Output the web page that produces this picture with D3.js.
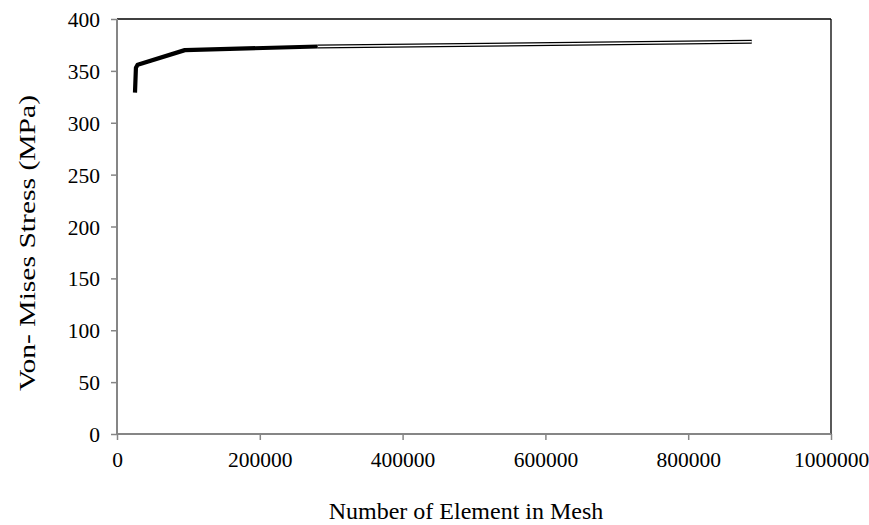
<!DOCTYPE html>
<html>
<head>
<meta charset="utf-8">
<script src="https://cdn.jsdelivr.net/npm/d3@7/dist/d3.min.js"></script>
<style>
  html, body { margin: 0; padding: 0; background: #ffffff; }
  svg { display: block; }
  svg text { font-family: "Liberation Serif", "Times New Roman", serif !important; fill: #000; }
</style>
</head>
<body>
<svg id="chart" width="869" height="525"></svg>
<script>
// Data
const elements = [25200, 26500, 29000, 95000, 281000, 889000];
const stress   = [329,   353,   356,   370,   373.5,  378];
const thickCount = 5; // first 5 points drawn with thick line, rest as hollow thin line
const xTicks = [0, 200000, 400000, 600000, 800000, 1000000];
const yTicks = [0, 50, 100, 150, 200, 250, 300, 350, 400];
const xTitle = "Number of Element in Mesh";
const yTitle = "Von- Mises Stress (MPa)";

const svg = d3.select("#chart");
const L = 117, R = 831, T = 19, B = 434;

const x = d3.scaleLinear().domain([0, 1000000]).range([L, R]);
const y = d3.scaleLinear().domain([0, 400]).range([B, T]);

// top & right border (black)
svg.append("line").attr("x1", L).attr("x2", R).attr("y1", T).attr("y2", T)
  .attr("stroke", "#000").attr("stroke-width", 1.3);
svg.append("line").attr("x1", R).attr("x2", R).attr("y1", T).attr("y2", B)
  .attr("stroke", "#000").attr("stroke-width", 1.3);

// axes
const xAxis = d3.axisBottom(x).tickValues(xTicks).tickSize(6).tickFormat(d3.format("d"));
const yAxis = d3.axisLeft(y).tickValues(yTicks).tickSize(6).tickFormat(d3.format("d"));

const gx = svg.append("g").attr("transform", `translate(0,${B})`).call(xAxis);
const gy = svg.append("g").attr("transform", `translate(${L},0)`).call(yAxis);

[gx, gy].forEach(g => {
  g.attr("font-family", "Liberation Serif").attr("font-size", 21.5);
  g.select(".domain").attr("stroke", "#868686").attr("stroke-width", 2);
  g.selectAll(".tick line").attr("stroke", "#868686").attr("stroke-width", 1.5);
  g.selectAll(".tick text").attr("fill", "#000");
});
gx.select(".domain").attr("d", `M${L},0H${R}`);
gy.select(".domain").attr("d", `M0,${B}V${T}`);
gx.selectAll(".tick text").attr("dy", 0).attr("y", 33);
gy.selectAll(".tick text").attr("x", -17).attr("dy", "0.35em");

// data line
const pts = elements.map((e, i) => [x(e), y(stress[i])]);
const line = d3.line();
const thick = pts.slice(0, thickCount);
const thin = pts.slice(thickCount - 1);

svg.append("path").attr("d", line(thin)).attr("fill", "none")
  .attr("stroke", "#000").attr("stroke-width", 4);
svg.append("path").attr("d", line(thin)).attr("fill", "none")
  .attr("stroke", "#fff").attr("stroke-width", 1.6);
svg.append("path").attr("d", line(thick)).attr("fill", "none")
  .attr("stroke", "#000").attr("stroke-width", 4.2)
  .attr("stroke-linejoin", "round").attr("stroke-linecap", "butt");

// titles
svg.append("text").attr("x", 466).attr("y", 519)
  .attr("text-anchor", "middle").attr("font-size", 24).text(xTitle);
svg.append("text").attr("transform", `translate(35,243) rotate(-90)`)
  .attr("text-anchor", "middle").attr("font-size", 24)
  .attr("textLength", 296).attr("lengthAdjust", "spacingAndGlyphs").text(yTitle);
</script>
</body>
</html>
